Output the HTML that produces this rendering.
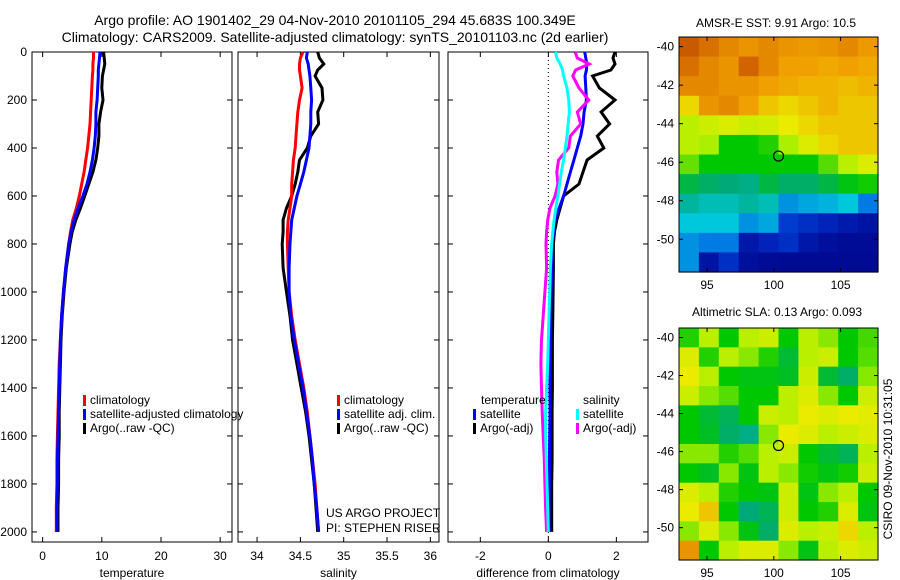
<!DOCTYPE html>
<html><head><meta charset="utf-8"><style>
html,body{margin:0;padding:0;background:#fff;}
svg{display:block;font-family:"Liberation Sans",sans-serif;}
</style></head><body>
<svg id="fig" width="900" height="580" viewBox="0 0 900 580">
<text x="335" y="25" font-size="14" text-anchor="middle">Argo profile: AO 1901402_29 04-Nov-2010 20101105_294 45.683S 100.349E</text>
<text x="335" y="42" font-size="14" text-anchor="middle">Climatology: CARS2009. Satellite-adjusted climatology: synTS_20101103.nc (2d earlier)</text>
<text x="776" y="27" font-size="12" text-anchor="middle">AMSR-E SST: 9.91 Argo: 10.5</text>
<text x="777" y="316" font-size="12" text-anchor="middle">Altimetric SLA: 0.13 Argo: 0.093</text>
<text transform="translate(892,459) rotate(-90)" font-size="12" text-anchor="middle">CSIRO 09-Nov-2010 10:31:05</text>
<text x="326" y="517" font-size="12">US ARGO PROJECT</text>
<text x="326" y="532" font-size="12">PI: STEPHEN RISER</text>
</svg>
<script>
const depths=[0,25,50,75,100,150,200,250,300,350,400,450,500,550,600,650,700,750,800,900,1000,1100,1200,1300,1400,1500,1600,1700,1800,1900,2000];
const tempClim=[8.6,8.6,8.5,8.5,8.4,8.3,8.2,8.1,8.0,7.8,7.6,7.3,7.0,6.6,6.2,5.7,5.1,4.7,4.4,3.9,3.5,3.2,3.0,2.8,2.7,2.6,2.5,2.4,2.4,2.3,2.3];
const tempSat=[9.7,9.6,9.5,9.4,9.4,9.3,9.2,9.0,9.0,8.9,8.7,8.4,8.0,7.5,6.8,6.0,5.3,4.8,4.4,3.9,3.5,3.2,3.0,2.9,2.8,2.7,2.6,2.5,2.5,2.4,2.4];
const tempArgo=[10.3,10.4,10.5,10.3,10.1,10.0,10.2,9.8,9.5,9.5,9.3,9.0,8.5,7.8,7.1,6.4,5.6,5.0,4.6,4.0,3.6,3.3,3.1,3.0,2.9,2.8,2.8,2.7,2.7,2.6,2.6];
const salClim=[34.53,34.50,34.49,34.49,34.50,34.52,34.49,34.47,34.46,34.45,34.44,34.42,34.41,34.40,34.40,34.38,34.36,34.35,34.35,34.36,34.37,34.40,34.44,34.49,34.54,34.58,34.61,34.64,34.67,34.69,34.71];
const salSat=[34.58,34.57,34.59,34.60,34.61,34.62,34.63,34.62,34.62,34.61,34.60,34.57,34.54,34.50,34.46,34.43,34.40,34.39,34.38,34.37,34.37,34.39,34.43,34.48,34.53,34.57,34.61,34.64,34.66,34.69,34.71];
const salArgo=[34.70,34.72,34.77,34.70,34.67,34.75,34.76,34.70,34.71,34.62,34.58,34.49,34.47,34.44,34.40,34.34,34.30,34.30,34.29,34.30,34.34,34.38,34.41,34.46,34.51,34.56,34.60,34.63,34.66,34.68,34.70];
const dTempSat=[1.07,1.10,1.13,1.12,1.08,1.10,1.12,1.05,1.02,0.95,0.85,0.75,0.65,0.55,0.45,0.32,0.20,0.15,0.12,0.10,0.08,0.07,0.07,0.06,0.05,0.05,0.04,0.03,0.03,0.02,0.02];
const dTempArgo=[1.96,1.90,1.96,1.84,1.30,1.50,1.96,1.55,1.80,1.44,1.63,1.14,1.02,0.90,0.45,0.35,0.25,0.18,0.15,0.15,0.14,0.13,0.12,0.12,0.12,0.11,0.11,0.11,0.10,0.10,0.10];
const dSalSat=[0.21,0.25,0.35,0.42,0.45,0.55,0.60,0.62,0.58,0.55,0.50,0.45,0.38,0.33,0.28,0.22,0.17,0.13,0.10,0.06,0.04,0.02,0.0,-0.02,-0.05,-0.08,-0.08,-0.06,-0.04,-0.02,0.0];
const dSalArgo=[0.79,0.85,1.20,0.80,0.72,0.90,1.19,0.85,0.95,0.65,0.60,0.30,0.25,0.28,0.20,0.05,-0.02,-0.05,-0.07,-0.05,-0.10,-0.15,-0.20,-0.22,-0.20,-0.18,-0.15,-0.12,-0.10,-0.08,-0.05];
const depthTicks=[0,200,400,600,800,1000,1200,1400,1600,1800,2000];
const tempTicks=[0,10,20,30];
const salTicks=[34,34.5,35,35.5,36];
const diffTicks=[-2,0,2];
const sstGrid=[
[.88,.84,.80,.78,.80,.78,.77,.78,.80,.77],
[.84,.80,.78,.86,.80,.76,.76,.75,.76,.75],
[.80,.80,.78,.78,.76,.75,.74,.74,.73,.74],
[.70,.78,.80,.76,.72,.70,.72,.74,.72,.72],
[.62,.64,.66,.64,.65,.68,.70,.72,.72,.72],
[.62,.60,.50,.50,.52,.60,.66,.70,.72,.72],
[.56,.50,.50,.50,.50,.50,.50,.55,.62,.66],
[.46,.44,.43,.42,.46,.44,.44,.46,.49,.51],
[.40,.38,.38,.40,.38,.30,.32,.33,.35,.28],
[.35,.35,.35,.30,.32,.20,.18,.16,.13,.10],
[.30,.28,.28,.12,.16,.18,.12,.08,.06,.06],
[.30,.10,.18,.08,.06,.05,.05,.05,.05,.05]];
const slaGrid=[
[.52,.62,.50,.62,.64,.50,.62,.58,.50,.54],
[.66,.52,.62,.58,.52,.47,.62,.64,.50,.55],
[.68,.62,.50,.49,.49,.48,.64,.47,.44,.58],
[.64,.58,.55,.50,.50,.62,.66,.58,.50,.64],
[.50,.47,.45,.50,.64,.62,.68,.66,.68,.67],
[.50,.48,.44,.42,.58,.68,.66,.62,.64,.66],
[.58,.58,.52,.55,.62,.64,.50,.47,.45,.62],
[.50,.48,.58,.49,.62,.58,.51,.49,.51,.64],
[.66,.62,.52,.50,.49,.64,.49,.58,.62,.50],
[.68,.72,.50,.43,.45,.64,.50,.52,.66,.49],
[.58,.66,.58,.49,.44,.66,.62,.64,.70,.62],
[.78,.50,.62,.66,.66,.58,.49,.62,.66,.64]];
const latTicks=[-40,-42,-44,-46,-48,-50];
const lonTicks=[95,100,105];
const floatLon=100.35, floatLat=-45.68;

const NS='http://www.w3.org/2000/svg';
const svg=document.getElementById('fig');
function mk(tag,attrs,parent){const e=document.createElementNS(NS,tag);for(const k in attrs)e.setAttribute(k,attrs[k]);(parent||svg).appendChild(e);return e;}

const PT=52,PB=542,D0=0,D1=2042;
const yD=d=>PT+(d-D0)/(D1-D0)*(PB-PT);
const panels=[
 {l:32,r:232,x0:-1.8,x1:32,ticks:tempTicks,label:'temperature',name:'temperature-panel'},
 {l:238,r:439,x0:33.78,x1:36.1,ticks:salTicks,label:'salinity',name:'salinity-panel'},
 {l:448,r:648,x0:-2.95,x1:2.93,ticks:diffTicks,label:'difference from climatology',name:'difference-panel'}];
panels.forEach((p,i)=>{p.x=v=>p.l+(v-p.x0)/(p.x1-p.x0)*(p.r-p.l);
 const g=mk('g',{});
 
 
 const fr=mk('rect',{x:p.l,y:PT,width:p.r-p.l,height:PB-PT,fill:'none',stroke:'#000','stroke-width':1},g);
 
 
 depthTicks.forEach(d=>{const y=yD(d);
  mk('line',{x1:p.l,x2:p.l+5,y1:y,y2:y,stroke:'#000'},g);mk('line',{x1:p.r,x2:p.r-5,y1:y,y2:y,stroke:'#000'},g);
  if(i===0){const t=mk('text',{x:p.l-5,y:y+4,'font-size':12,'text-anchor':'end'},g);t.textContent=d;
   
   }
 });
 p.ticks.forEach(v=>{const x=p.x(v);
  mk('line',{x1:x,x2:x,y1:PB,y2:PB-5,stroke:'#000'},g);mk('line',{x1:x,x2:x,y1:PT,y2:PT+5,stroke:'#000'},g);
  const t=mk('text',{x:x,y:560,'font-size':12,'text-anchor':'middle'},g);t.textContent=v;
  
  });
 const xl=mk('text',{x:(p.l+p.r)/2,y:577,'font-size':12,'text-anchor':'middle'},g);xl.textContent=p.label;
 
 
});
const zl=mk('line',{x1:panels[2].x(0),x2:panels[2].x(0),y1:PT,y2:PB,stroke:'#000','stroke-dasharray':'1,3'});



function series(p,vals,color,name){
 const pts=vals.map((v,i)=>p.x(v).toFixed(1)+','+yD(depths[i]).toFixed(1)).join(' ');
 const e=mk('polyline',{points:pts,fill:'none',stroke:color,'stroke-width':3,'stroke-linejoin':'miter'});
 
 
}
const P=panels;
series(P[0],tempArgo,'#000','temp-argo-line');
series(P[0],tempClim,'#f00','temp-climatology-line');
series(P[0],tempSat,'#00f','temp-satellite-line');
series(P[1],salArgo,'#000','sal-argo-line');
series(P[1],salClim,'#f00','sal-climatology-line');
series(P[1],salSat,'#00f','sal-satellite-line');
series(P[2],dTempArgo,'#000','dtemp-argo-line');
series(P[2],dTempSat,'#00f','dtemp-satellite-line');
series(P[2],dSalArgo,'#f0f','dsal-argo-line');
series(P[2],dSalSat,'#0ff','dsal-satellite-line');

function legend(x,y,color,label){
 const m=mk('rect',{x:x,y:y-9,width:3,height:11,fill:color});
 
 
 const t=mk('text',{x:x+7,y:y,'font-size':12});t.textContent=label;
 
 
}
legend(83,404,'#f00','climatology');
legend(83,418,'#00f','satellite-adjusted climatology');
legend(83,432,'#000','Argo(..raw -QC)');
legend(337,404,'#f00','climatology');
legend(337,418,'#00f','satellite adj. clim.');
legend(337,432,'#000','Argo(..raw -QC)');
legend(473,418,'#00f','satellite');
legend(473,432,'#000','Argo(-adj)');
legend(576,418,'#0ff','satellite');
legend(576,432,'#f0f','Argo(-adj)');
const lt=mk('text',{x:481,y:404,'font-size':12});lt.textContent='temperature';


const ls=mk('text',{x:583,y:404,'font-size':12});ls.textContent='salinity';



const cmapStops=[[0,0,0,130],[0.15,0,30,180],[0.25,0,90,230],[0.35,0,200,220],[0.43,0,170,120],[0.5,0,200,0],[0.6,170,240,0],[0.68,235,235,0],[0.76,240,160,0],[0.86,210,100,0],[1,150,30,0]];
function cmap(v){
 for(let i=1;i<cmapStops.length;i++){const a=cmapStops[i-1],b=cmapStops[i];
  if(v<=b[0]){const t=Math.max(0,(v-a[0])/(b[0]-a[0]));
   return 'rgb('+[1,2,3].map(k=>Math.round(a[k]+(b[k]-a[k])*t)).join(',')+')';}}
 const l=cmapStops[cmapStops.length-1];return 'rgb('+l[1]+','+l[2]+','+l[3]+')';}
const LON0=92.9,LON1=107.8,LAT0=-39.5,LAT1=-51.7;
function drawMap(top,bottom,grid,name){
 const l=679,r=878;
 const xL=v=>l+(v-LON0)/(LON1-LON0)*(r-l);
 const yL=v=>top+(v-LAT0)/(LAT1-LAT0)*(bottom-top);
 const g=mk('g',{});
 
 
 const rows=grid.length,cols=grid[0].length;
 const cw=(r-l)/cols,ch=(bottom-top)/rows;
 grid.forEach((row,i)=>row.forEach((v,j)=>{
  const c=mk('rect',{x:(l+j*cw).toFixed(2),y:(top+i*ch).toFixed(2),width:(cw+0.6).toFixed(2),height:(ch+0.6).toFixed(2),fill:cmap(v)},g);
  
  
 }));
 mk('rect',{x:l,y:top,width:r-l,height:bottom-top,fill:'none',stroke:'#000'},g);
 latTicks.forEach(v=>{const y=yL(v);
  mk('line',{x1:l,x2:l+4,y1:y,y2:y,stroke:'#000'},g);mk('line',{x1:r,x2:r-4,y1:y,y2:y,stroke:'#000'},g);
  const t=mk('text',{x:l-5,y:y+4,'font-size':12,'text-anchor':'end'},g);t.textContent=v;
  
  });
 lonTicks.forEach(v=>{const x=xL(v);
  mk('line',{x1:x,x2:x,y1:bottom,y2:bottom-4,stroke:'#000'},g);mk('line',{x1:x,x2:x,y1:top,y2:top+4,stroke:'#000'},g);
  const t=mk('text',{x:x,y:bottom+17,'font-size':12,'text-anchor':'middle'},g);t.textContent=v;
  
  });
 const c=mk('circle',{cx:xL(floatLon),cy:yL(floatLat),r:5,fill:'none',stroke:'#000','stroke-width':1.2},g);
 
 
}
drawMap(37,272,sstGrid,'sst-map');
drawMap(328,560,slaGrid,'sla-map');
</script>
</body></html>
